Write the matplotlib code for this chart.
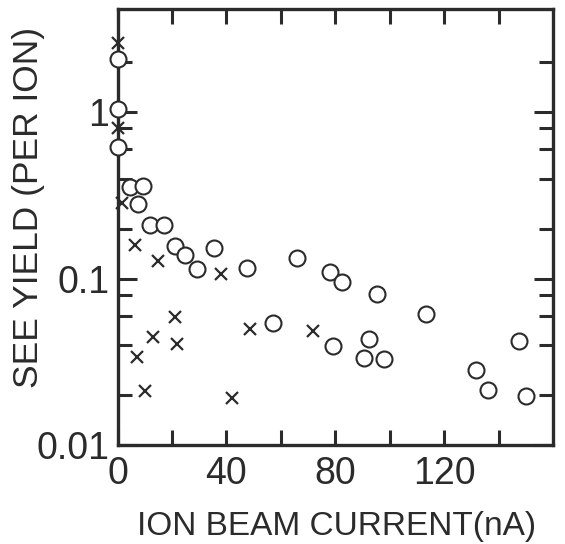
import numpy as np
import matplotlib.pyplot as plt
from matplotlib.ticker import FixedLocator, NullFormatter

plt.rcParams['font.family'] = ['Liberation Sans', 'DejaVu Sans']

# circles
circ_x = [0.0, 0.0, 0.0, 4.6, 9.4, 7.5, 11.9, 17.1, 21.1, 24.8, 29.2, 35.4, 47.5,
          65.9, 78.0, 82.4, 95.2, 57.1, 79.1, 92.3, 90.5, 97.8,
          113.2, 147.3, 131.6, 136.0, 149.9]
circ_y = [2.1, 1.05, 0.62, 0.358, 0.36, 0.283, 0.209, 0.209, 0.158, 0.138, 0.115, 0.152, 0.116,
          0.134, 0.109, 0.096, 0.081, 0.054, 0.0395, 0.0435, 0.0334, 0.033,
          0.0615, 0.0423, 0.0283, 0.0214, 0.0197]

# crosses
cross_x = [0.3, 0.3, 1.6, 6.4, 14.9, 38.0, 48.6, 71.7, 21.1, 13.0, 21.8, 7.1, 10.1, 42.0]
cross_y = [2.6, 0.81, 0.287, 0.160, 0.128, 0.107, 0.050, 0.0484, 0.059, 0.0448, 0.0406,
           0.0339, 0.0212, 0.0192]

x_ticks = [0, 20, 40, 60, 80, 100, 120, 140]
x_labels = ['0', '', '40', '', '80', '', '120', '']
y_major = [0.01, 0.1, 1]
y_major_labels = ['0.01', '0.1', '1']
y_minor = [0.02, 0.04, 0.06, 0.08, 0.2, 0.4, 0.6, 0.8, 2]

ink = '#2b2b2b'

fig = plt.figure(figsize=(5.65, 5.44), dpi=100)
ax = fig.add_axes([0.208, 0.182, 0.771, 0.802])

ax.plot(circ_x, circ_y, 'o', ms=11.5, mfc='white', mec=ink, mew=1.5,
        clip_on=False, zorder=5)
ax.plot(cross_x, cross_y, 'x', ms=8, mec=ink, mew=1.6,
        clip_on=False, zorder=5)

ax.set_yscale('log')
ax.set_xlim(0, 160)
ax.set_ylim(0.01, 4.2)

ax.set_xticks(x_ticks)
ax.set_xticklabels(x_labels)
ax.yaxis.set_major_locator(FixedLocator(y_major))
ax.set_yticklabels(y_major_labels)
ax.yaxis.set_minor_locator(FixedLocator(y_minor))
ax.yaxis.set_minor_formatter(NullFormatter())
ax.xaxis.set_minor_locator(FixedLocator([]))

ax.tick_params(axis='x', which='major', direction='in', top=True, length=11,
               width=2.2, color=ink, labelsize=27, labelcolor=ink, pad=8)
ax.tick_params(axis='y', which='major', direction='in', right=True, length=14,
               width=2.2, color=ink, labelsize=27, labelcolor=ink, pad=6)
ax.tick_params(axis='y', which='minor', direction='in', right=True, length=10,
               width=2.2, color=ink)

for s in ax.spines.values():
    s.set_linewidth(2.4)
    s.set_color(ink)

ax.set_xlabel('ION BEAM CURRENT(nA)', fontsize=24, color=ink)
ax.xaxis.set_label_coords(0.502, -0.152)
ax.set_ylabel('SEE YIELD (PER ION)', fontsize=25.5, color=ink)
ax.yaxis.set_label_coords(-0.166, 0.545)

fig.savefig('out.png', dpi=100)
